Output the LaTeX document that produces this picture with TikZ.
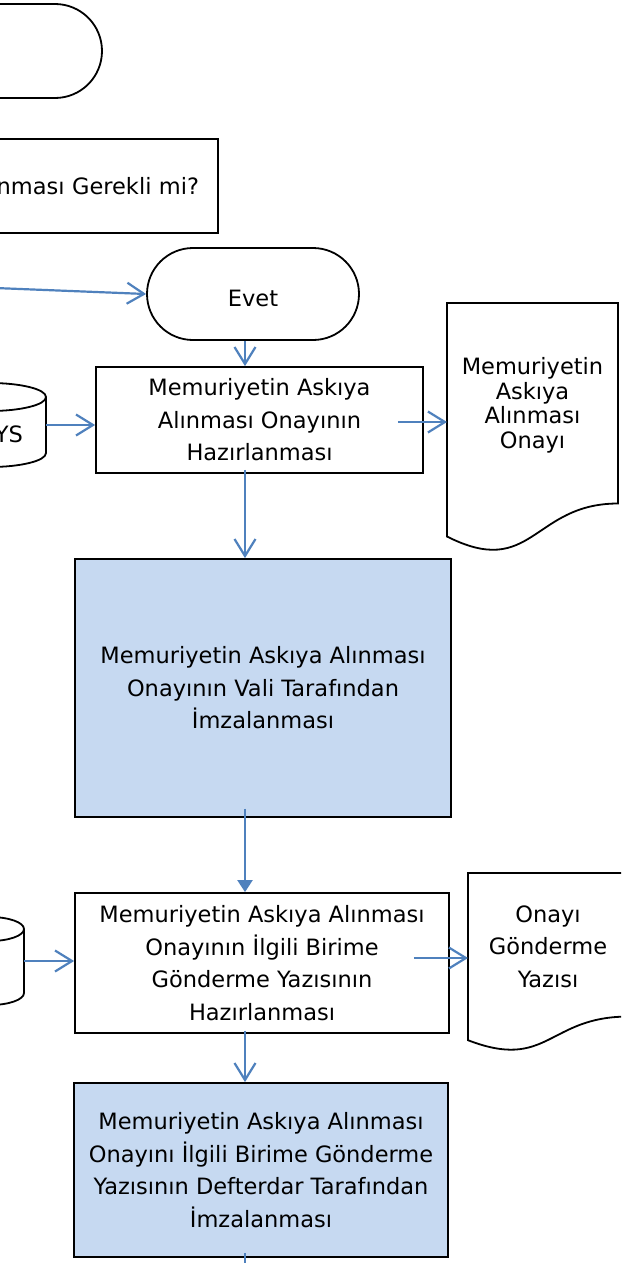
\documentclass[tikz,border=0pt]{standalone}
\usepackage{fontspec}
\setmainfont{DejaVu Sans}
\usetikzlibrary{arrows.meta}
\definecolor{OkMavi}{HTML}{4F81BD}
\definecolor{KutuMavi}{HTML}{C6D9F1}

\tikzset{
  kutu/.style={draw=black, line width=1.8pt, align=center, inner sep=0pt,
    font=\fontsize{22.5pt}{32.5pt}\selectfont},
  ok/.style={draw=OkMavi, line width=2.2pt, -{Straight Barb[length=17pt,width=21pt]}},
  okdolu/.style={draw=OkMavi, fill=OkMavi, line width=2.2pt, -{Triangle[length=12pt,width=15pt]}}
}

\begin{document}
\begin{tikzpicture}[x=1pt, y=-1pt]

  % Zeichenflaeche (621 x 1263, links abgeschnitten)
  \fill[white] (0,0) rectangle (621,1263);
  \useasboundingbox (0,0) rectangle (621,1263);
  \clip (0,0) rectangle (621,1263);

  % Makro fuer Datenbank-Zylinder
  % Parameter: 1=Name, 2=x-Mitte, 3=y oben, 4=y unten, 5=Radius x, 6=Radius y
  \def\silindir#1#2#3#4#5#6{
    \draw[line width=1.8pt, fill=white] ({#2-#5},#3) -- ({#2-#5},#4)
      arc[start angle=180, end angle=0, x radius=#5, y radius=#6] -- ({#2+#5},#3);
    \draw[line width=1.8pt] (#2,#3) ellipse[x radius=#5, y radius=#6];
    \coordinate (#1) at ({#2+#5},{0.5*(#3+#4)});
  }

  % Makro fuer Dokument-Symbol (Wellenunterkante)
  % Parameter: 1=Name, 2=x, 3=y, 4=Breite, 5=Hoehe, 6=Zeilenabstand, 7=Text
  \def\belge#1#2#3#4#5#6#7{
    \draw[line width=1.8pt, fill=white] (#2,#3) -- ({#2+#4},#3) -- ({#2+#4},{#3+0.802*#5})
      .. controls ({#2+0.5*#4},{#3+0.802*#5}) and ({#2+0.5*#4},{#3+1.107*#5}) .. (#2,{#3+0.934*#5}) -- cycle;
    \coordinate (#1-sol) at (#2,{#3+0.4*#5});
    \node[align=center, inner sep=0pt, font=\fontsize{22.5pt}{#6}\selectfont] (#1) at ({#2+0.5*#4},{#3+0.41*#5}) {#7};
  }

  % Start und Entscheidung
  \node[kutu, minimum width=214pt, minimum height=94pt, rounded corners=47pt] (basla) at (-5,51) {};
  \node[kutu, anchor=east, minimum width=420pt, minimum height=94pt, text width=382pt, align=right] (soru) at (219,186) {Alınması Gerekli mi?};

  \node[kutu, minimum width=212pt, minimum height=92pt, rounded corners=46pt, text height=26pt] (evet) at (253,294) {Evet};
  \coordinate (giris) at (-5,288);
  \draw[ok] (giris) -- (evet.west);

  % Hauptachse
  \coordinate (eksen) at (245,0);

  % Onay hazirlama
  \node[kutu, minimum width=327pt, minimum height=106pt] (hazir1) at (259.5,420) {Memuriyetin Askıya\\Alınması Onayının\\Hazırlanması};
  \draw[ok] (evet.south -| eksen) -- (hazir1.north -| eksen);

  \silindir{dys}{-10}{397}{453}{56}{14}
  \node[font=\fontsize{22.5pt}{27pt}\selectfont, anchor=east, inner sep=0pt] (dysyazi) at (23,434) {YS};
  \draw[ok] (dys) -- (dys -| hazir1.west);

  \belge{onay}{447}{303}{171}{250}{24.5pt}{Memuriyetin\\Askıya\\Alınması\\Onayı}
  \draw[ok] ([xshift=-26pt,yshift=-2pt]hazir1.east) -- ([yshift=-2pt]hazir1.east -| onay-sol);

  % Vali imzasi
  \node[kutu, fill=KutuMavi, minimum width=376pt, minimum height=258pt] (vali) at (263,688) {Memuriyetin Askıya Alınması\\Onayının Vali Tarafından\\İmzalanması};
  \draw[ok] ([yshift=4pt]hazir1.south -| eksen) -- (vali.north -| eksen);

  % Gonderme yazisi
  \node[kutu, minimum width=374pt, minimum height=140pt] (gonder) at (262,963) {Memuriyetin Askıya Alınması\\Onayının İlgili Birime\\Gönderme Yazısının\\Hazırlanması};
  \draw[okdolu] ([yshift=9pt]vali.south -| eksen) -- (gonder.north -| eksen);

  \silindir{sil2}{-10}{929}{993}{34}{12}
  \draw[ok] (sil2) -- (sil2 -| gonder.west);

  \belge{yazi}{468}{873}{160}{179}{32.5pt}{Onayı\\Gönderme\\Yazısı}
  \draw[ok] ([xshift=-36pt,yshift=5pt]gonder.east) -- ([yshift=5pt]gonder.east -| yazi-sol);

  % Defterdar imzasi
  \node[kutu, fill=KutuMavi, minimum width=374pt, minimum height=174pt] (defter) at (261,1170) {Memuriyetin Askıya Alınması\\Onayını İlgili Birime Gönderme\\Yazısının Defterdar Tarafından\\İmzalanması};
  \draw[ok] ([yshift=3pt]gonder.south -| eksen) -- (defter.north -| eksen);

  \coordinate (cikis) at (245,1275);
  \draw[draw=OkMavi, line width=2.2pt] ([yshift=5pt]defter.south -| eksen) -- (cikis);

\end{tikzpicture}
\end{document}
